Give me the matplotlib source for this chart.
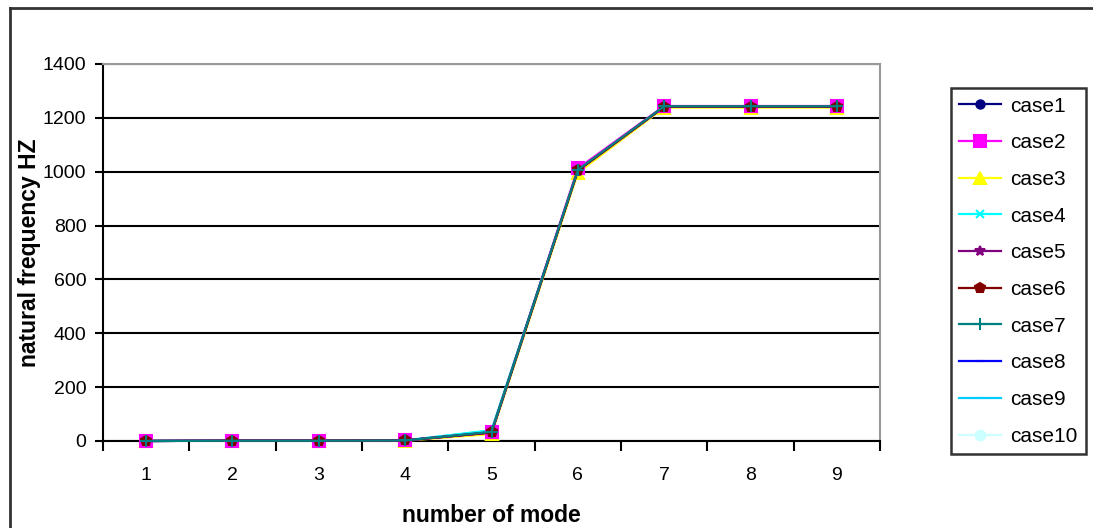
import matplotlib.pyplot as plt
from matplotlib.lines import Line2D

plt.rcParams['font.family'] = ['Liberation Sans', 'DejaVu Sans']

# mode numbers and natural frequencies (Hz) for each case
modes = [1, 2, 3, 4, 5, 6, 7, 8, 9]
case1 = [0, 1, 1, 2, 32, 1005, 1242, 1242, 1242]
case2 = [0, 1, 1, 2, 33, 1012, 1244, 1244, 1244]
case3 = [0, 1, 1, 1, 26, 996, 1238, 1238, 1238]
case4 = [0, 1, 1, 2, 40, 1006, 1242, 1242, 1242]
case5 = [0, 1, 1, 2, 31, 1004, 1241, 1241, 1241]
case6 = [0, 1, 1, 2, 32, 1005, 1242, 1242, 1242]
case7 = [0, 1, 1, 2, 34, 1007, 1243, 1243, 1243]
case8 = [0, 1, 1, 2, 33, 1006, 1242, 1242, 1242]
case9 = [0, 1, 1, 2, 38, 1006, 1242, 1242, 1242]
case10 = [0, 1, 1, 2, 33, 1006, 1242, 1242, 1242]

names = ['case1', 'case2', 'case3', 'case4', 'case5',
         'case6', 'case7', 'case8', 'case9', 'case10']
series = [case1, case2, case3, case4, case5,
          case6, case7, case8, case9, case10]
colors = ['#000080', '#FF00FF', '#FFFF00', '#00FFFF', '#800080',
          '#800000', '#008080', '#0000FF', '#00CCFF', '#CCFFFF']
markers = ['o', 's', '^', 'x', '*', 'p', '+', '_', '_', 'o']
msizes = [6, 8, 8, 6, 7, 7, 9, 7, 9, 7]
# stacking: the pale series sit underneath, teal ends up on top
zorders = [6, 8, 4, 5, 7, 9, 10, 3, 2, 1]

fig = plt.figure(figsize=(10.93, 5.28), dpi=100)
ax = fig.add_axes([0.0942, 0.1648, 0.711, 0.714])

for name, vals, c, m, ms, z in zip(names, series, colors, markers, msizes,
                                   zorders):
    ax.plot(modes, vals, color=c, marker=m, markersize=ms, linewidth=1.6,
            markeredgewidth=1.5, label=name, clip_on=False, zorder=z)

ax.set_xlim(0.5, 9.5)
ax.set_ylim(0, 1400)
ax.set_yticks(range(0, 1401, 200))
ax.set_xticks(modes)
ax.set_xticks([x + 0.5 for x in range(0, 10)], minor=True)
ax.tick_params(axis='x', which='major', length=0, pad=19, labelsize=14)
ax.tick_params(axis='x', which='minor', length=7, width=1.5, direction='out')
ax.tick_params(axis='y', length=6, width=1.5, direction='out', pad=6,
               labelsize=14)
ax.grid(axis='y', color='black', linewidth=1.5)
ax.set_axisbelow(True)

for side in ['top', 'right']:
    ax.spines[side].set_color('#999999')
    ax.spines[side].set_linewidth(1.5)
for side in ['left', 'bottom']:
    ax.spines[side].set_color('black')
    ax.spines[side].set_linewidth(1.5)

ax.set_xlabel('number of mode', fontsize=16.5, fontweight='bold', labelpad=14)
ax.set_ylabel('natural frequency HZ', fontsize=16.5, fontweight='bold',
              labelpad=1)

leg = fig.legend(loc='upper left', bbox_to_anchor=(0.870, 0.833),
                 fontsize=15, frameon=True, fancybox=False,
                 edgecolor='black', handlelength=2.0, labelspacing=0.85,
                 borderpad=0.4, handletextpad=0.45, borderaxespad=0)
leg.get_frame().set_linewidth(1.8)

# outer chart border
fig.add_artist(Line2D([0.009, 0.009], [0, 0.985], color='#333333',
                      linewidth=2, transform=fig.transFigure))
fig.add_artist(Line2D([0.009, 1.0], [0.985, 0.985], color='#333333',
                      linewidth=2, transform=fig.transFigure))

fig.savefig('out.png', dpi=100)
